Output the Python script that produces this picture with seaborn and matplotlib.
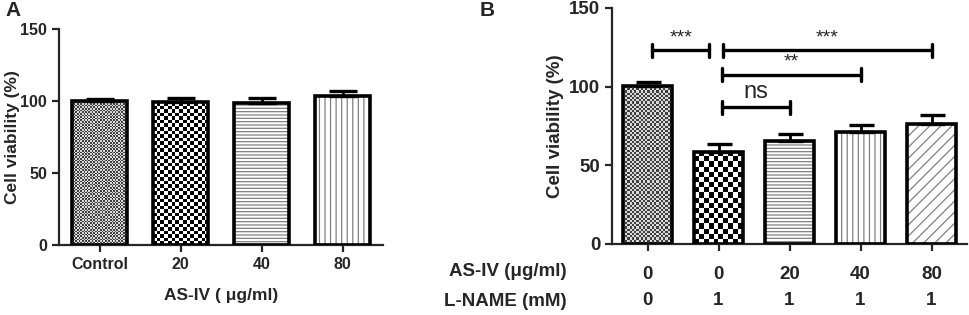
import numpy as np
import pandas as pd
import matplotlib
matplotlib.use("Agg")
import matplotlib.pyplot as plt
from matplotlib.patches import Rectangle
import seaborn as sns

sns.set_style("ticks")
plt.rcParams['font.family'] = ['Liberation Sans', 'DejaVu Sans']
plt.rcParams['hatch.linewidth'] = 0.9

# panel A
a_labels = ["Control", "20", "40", "80"]
a_values = [100.3, 99.0, 98.6, 103.6]
a_err = [1.2, 3.0, 3.7, 3.0]
a_fill = ["fine", "checker", "-----", "|||"]

# panel B
b_asiv = ["0", "0", "20", "40", "80"]
b_lname = ["0", "1", "1", "1", "1"]
b_values = [100.2, 58.5, 65.3, 71.2, 76.5]
b_err = [3.0, 5.3, 4.6, 4.6, 5.3]
b_fill = ["fine", "checker", "-----", "|||", "///"]

# significance brackets: (x1, x2, y, label)
b_sig = [(0.07, 0.87, 123, "***"),
         (1.06, 4.01, 123, "***"),
         (1.05, 3.0, 107.6, "**"),
         (1.05, 2.0, 86.9, "ns")]

W, H = 969, 315
fig = plt.figure(figsize=(W / 100, H / 100), dpi=100)
axA = fig.add_axes([59 / W, 1 - 245 / H, 324 / W, 216 / H])
axB = fig.add_axes([612 / W, 1 - 244 / H, 355 / W, 236 / H])


def fill_bar(ax, patch, kind, sq):
    x0, y0 = patch.get_x(), patch.get_y()
    w, h = patch.get_width(), patch.get_height()
    if kind in ("fine", "checker"):
        # checkerboard texture clipped to the bar
        p0 = ax.transData.transform((x0, y0))
        p1 = ax.transData.transform((x0 + w, y0 + h))
        nx = max(1, int(round((p1[0] - p0[0]) / sq)))
        ny = max(1, int(round((p1[1] - p0[1]) / sq)))
        board = (np.add.outer(np.arange(ny), np.arange(nx)) % 2).astype(float)
        if kind == "fine":
            board = 0.25 + 0.6 * board
        im = ax.imshow(board, extent=(x0, x0 + w, y0, y0 + h), cmap="gray",
                       vmin=0, vmax=1, interpolation="nearest", aspect="auto",
                       origin="lower", zorder=1.5)
        im.set_clip_path(patch)
        patch.set_facecolor("white")
        patch.set_linewidth(0)
    else:
        patch.set_hatch(kind)
        patch.set_edgecolor("#808080")
        patch.set_linewidth(0)
    ax.add_patch(Rectangle((x0, y0), w, h, fill=False, edgecolor="black",
                           linewidth=2.6, zorder=3))


def draw_panel(ax, xlabels, values, errs, fills, width, sqs, cap):
    df = pd.DataFrame({"group": range(len(values)), "value": values})
    sns.barplot(data=df, x="group", y="value", color="white", width=width,
                errorbar=None, ax=ax, zorder=1)
    ax.set_xlim(-0.5, len(values) - 0.5)
    ax.set_ylim(0, 150)
    ax.errorbar(range(len(values)), values, yerr=[np.zeros(len(errs)), errs],
                fmt="none", ecolor="black", elinewidth=2, capsize=cap,
                capthick=2.4, zorder=2)
    for patch, kind in zip(ax.patches[:len(values)], fills):
        fill_bar(ax, patch, kind, sqs[0] if kind == "fine" else sqs[1])
    ax.set_xlim(-0.5, len(values) - 0.5)
    ax.set_ylim(0, 150)
    ax.set_yticks([0, 50, 100, 150])
    ax.set_xticks(range(len(values)))
    ax.set_xticklabels(xlabels)
    sns.despine(ax=ax)
    ax.spines["left"].set_linewidth(1.6)
    ax.spines["bottom"].set_linewidth(1.6)
    ax.tick_params(width=1.6, length=5, direction="out")
    for lab in ax.get_xticklabels() + ax.get_yticklabels():
        lab.set_fontweight("bold")


draw_panel(axA, a_labels, a_values, a_err, a_fill, 0.68, (1.6, 3.6), 10)
axA.tick_params(labelsize=11.5)
axA.set_xlabel("AS-IV ( \u03bcg/ml)", fontsize=12.5, fontweight="bold", labelpad=12)
axA.set_ylabel("Cell viability (%)", fontsize=12.5, fontweight="bold")
axA.yaxis.set_label_coords(-0.12, 0.5)

draw_panel(axB, b_asiv, b_values, b_err, b_fill, 0.69, (2.2, 5.0), 9)
axB.tick_params(labelsize=13.5)
axB.tick_params(axis="x", pad=10.5)
axB.set_xlabel("")
axB.set_ylabel("Cell viability (%)", fontsize=13.5, fontweight="bold")
axB.yaxis.set_label_coords(-0.135, 0.5)

# second row of category labels under panel B
row_tf = axB.get_xaxis_transform()
for i, lab in enumerate(b_lname):
    axB.text(i, -0.2415, lab, transform=row_tf, ha="center", va="center",
             fontsize=13.5, fontweight="bold")
fig.text(567 / W, 1 - 272 / H, "AS-IV (\u03bcg/ml)", ha="right", va="center",
         fontsize=13.5, fontweight="bold")
fig.text(567 / W, 1 - 301 / H, "L-NAME (mM)", ha="right", va="center",
         fontsize=13.5, fontweight="bold")

for x1, x2, y, lab in b_sig:
    axB.plot([x1, x2], [y, y], color="black", lw=2.4, clip_on=False)
    for xe in (x1, x2):
        axB.plot([xe, xe], [y - 4, y + 4], color="black", lw=2.4, clip_on=False)
    if lab == "ns":
        axB.text((x1 + x2) / 2, y + 2.5, lab, ha="center", va="bottom", fontsize=17)
    else:
        axB.text((x1 + x2) / 2, y + 2.5, lab, ha="center", va="bottom", fontsize=14)

fig.text(5 / W, 1 - 10 / H, "A", fontsize=15, fontweight="bold", va="center")
fig.text(480 / W, 1 - 10 / H, "B", fontsize=15, fontweight="bold", va="center")

fig.savefig("out.png", dpi=100)
